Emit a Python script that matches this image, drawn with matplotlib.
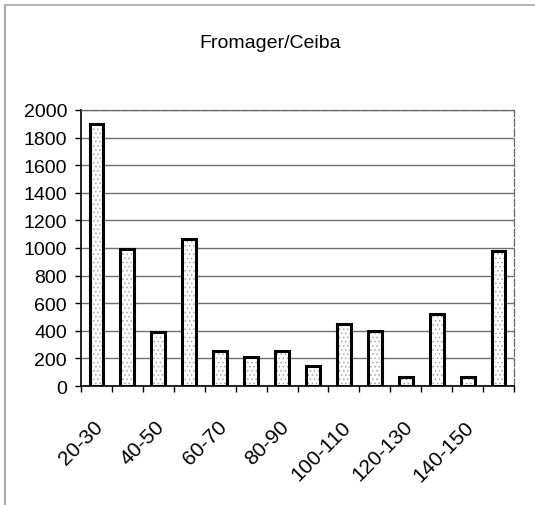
import numpy as np
import matplotlib
matplotlib.use("Agg")
import matplotlib.pyplot as plt
from matplotlib.lines import Line2D

plt.rcParams['font.family'] = ['Liberation Sans', 'DejaVu Sans']
plt.rcParams['hatch.linewidth'] = 0.6

# diameter classes (cm) and number of stems
classes = ['20-30', '30-40', '40-50', '50-60', '60-70', '70-80', '80-90',
           '90-100', '100-110', '110-120', '120-130', '130-140', '140-150', '150-160']
counts = [1900, 990, 390, 1065, 255, 210, 255, 145, 450, 400, 65, 520, 65, 975]
yticks = list(range(0, 2001, 200))

W, H = 535, 506
fig = plt.figure(figsize=(W / 100, H / 100), dpi=100)
ax = fig.add_axes([81 / W, 1 - 387 / H, 433 / W, 276 / H])

x = np.arange(len(classes))
# speckled fill first, then the black outline on top
ax.bar(x, counts, width=0.45, facecolor='white', edgecolor='#a8a8a8',
       linewidth=0, hatch='....', zorder=3)
ax.bar(x, counts, width=0.45, facecolor='none', edgecolor='black',
       linewidth=2.2, zorder=4)

ax.set_xlim(-0.5, len(classes) - 0.5)
ax.set_ylim(0, 2000)
ax.set_yticks(yticks)
ax.set_yticklabels([str(v) for v in yticks], fontsize=14)
ax.yaxis.grid(True, color='#6e6e6e', linewidth=1.0, zorder=0)

# category boundary ticks, labels on every other category
ax.set_xticks(np.arange(-0.5, len(classes), 1.0), minor=False)
ax.set_xticklabels([])
ax.set_xticks(x[::2] - 0.1, minor=True)
ax.set_xticklabels(classes[::2], minor=True, rotation=45, ha='right',
                   rotation_mode='anchor', fontsize=15)
ax.tick_params(axis='x', which='minor', length=0, pad=22)
ax.tick_params(axis='x', which='major', length=4, direction='out', width=1)
ax.tick_params(axis='y', length=4, direction='out', width=1, pad=6)

for side in ['top', 'right']:
    ax.spines[side].set_linestyle((0, (6, 2)))
    ax.spines[side].set_color('#666666')
    ax.spines[side].set_linewidth(0.9)
for side in ['left', 'bottom']:
    ax.spines[side].set_color('black')
    ax.spines[side].set_linewidth(1.2)

fig.text(270 / W, 1 - 43 / H, 'Fromager/Ceiba', ha='center', va='center',
         fontsize=14)

# outer chart frame
fig.add_artist(Line2D([5 / W, 5 / W], [0, 1 - 6 / H], transform=fig.transFigure,
                      color='#999999', linewidth=1.2))
fig.add_artist(Line2D([5 / W, 1], [1 - 6 / H, 1 - 6 / H], transform=fig.transFigure,
                      color='#aaaaaa', linewidth=1.2))

fig.savefig('out.png', dpi=100)
